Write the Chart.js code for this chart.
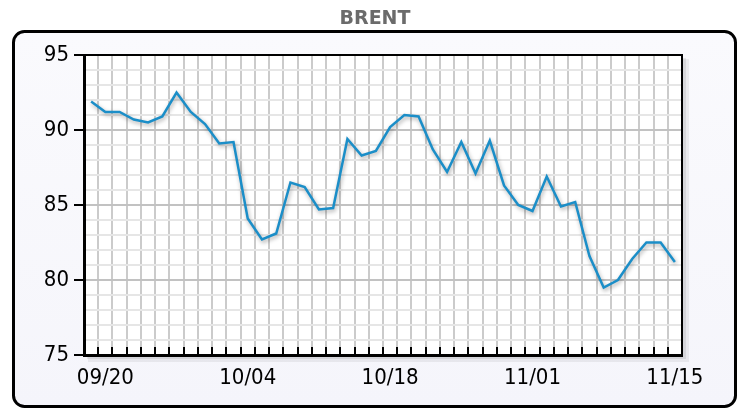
<!DOCTYPE html>
<html>
<head>
<meta charset="utf-8">
<title>BRENT</title>
<script src="https://cdn.jsdelivr.net/npm/chart.js@4.4.1/dist/chart.umd.min.js"></script>
<style>
    body { margin: 0; background: #fff; }
    canvas { display: block; }
</style>
</head>
<body>
<canvas id="brentChart" width="742" height="410"></canvas>
<script>
// Trading days (weekdays only), one point per day
const dates = [
    '09/19', '09/20', '09/23', '09/24', '09/25', '09/26', '09/27', '09/30', '10/01', '10/02',
    '10/03', '10/04', '10/07', '10/08', '10/09', '10/10', '10/11', '10/14', '10/15', '10/16',
    '10/17', '10/18', '10/21', '10/22', '10/23', '10/24', '10/25', '10/28', '10/29', '10/30',
    '10/31', '11/01', '11/04', '11/05', '11/06', '11/07', '11/08', '11/11', '11/12', '11/13',
    '11/14', '11/15'
];

// Brent price
const prices = [
    91.9, 91.2, 91.2, 90.7, 90.5, 90.9, 92.5, 91.2, 90.4, 89.1,
    89.2, 84.1, 82.7, 83.1, 86.5, 86.2, 84.7, 84.8, 89.4, 88.3,
    88.6, 90.2, 91.0, 90.9, 88.7, 87.2, 89.2, 87.1, 89.3, 86.3,
    85.0, 84.6, 86.9, 84.9, 85.2, 81.6, 79.5, 80.0, 81.4, 82.5,
    82.5, 81.2
];

// Dates that get a label under the axis
const tickDates = ['09/20', '10/04', '10/18', '11/01', '11/15'];

const titleText = 'BRENT';
const yMin = 75;
const yMax = 95;

// Rounded frame, title and the white plot panel with its shadow
const framePlugin = {
    id: 'frame',
    beforeDraw(chart) {
        const ctx = chart.ctx;
        const area = chart.chartArea;
        ctx.save();
        ctx.fillStyle = '#ffffff';
        ctx.fillRect(0, 0, chart.width, chart.height);

        // outer frame
        const x = 13.5, y = 31.5, w = 722, h = 375, r = 11;
        ctx.beginPath();
        ctx.moveTo(x + r, y);
        ctx.arcTo(x + w, y, x + w, y + h, r);
        ctx.arcTo(x + w, y + h, x, y + h, r);
        ctx.arcTo(x, y + h, x, y, r);
        ctx.arcTo(x, y, x + w, y, r);
        ctx.closePath();
        const grad = ctx.createLinearGradient(0, y, 0, y + h);
        grad.addColorStop(0, '#fafafd');
        grad.addColorStop(1, '#f5f5fb');
        ctx.fillStyle = grad;
        ctx.fill();
        ctx.lineWidth = 3;
        ctx.strokeStyle = '#000';
        ctx.stroke();

        // title
        ctx.fillStyle = '#6b6b6b';
        ctx.font = 'bold 19px "DejaVu Sans"';
        ctx.textAlign = 'center';
        ctx.textBaseline = 'alphabetic';
        ctx.fillText(titleText, 375, 24);

        // panel shadow + white panel
        ctx.fillStyle = 'rgba(0,0,0,0.06)';
        ctx.fillRect(area.left + 4, area.top + 4, area.right - area.left + 3, area.bottom - area.top + 3);
        ctx.fillStyle = 'rgba(0,0,0,0.08)';
        ctx.fillRect(area.left + 3, area.top + 3, area.right - area.left + 1, area.bottom - area.top + 1);
        ctx.fillStyle = '#ffffff';
        ctx.fillRect(area.left, area.top, area.right - area.left, area.bottom - area.top);
        ctx.restore();
    },
    afterDraw(chart) {
        const ctx = chart.ctx;
        const area = chart.chartArea;
        const xs = chart.scales.x;
        ctx.save();
        // top and right edges of the panel
        ctx.strokeStyle = '#000';
        ctx.lineWidth = 2;
        ctx.beginPath();
        ctx.moveTo(area.left, area.top);
        ctx.lineTo(area.right, area.top);
        ctx.lineTo(area.right, area.bottom);
        ctx.stroke();
        // little day ticks standing on the bottom axis
        ctx.lineWidth = 2;
        ctx.beginPath();
        const step = xs.width / dates.length;
        for (let i = 1; i < dates.length; i++) {
            const px = Math.round(xs.left + i * step);
            ctx.moveTo(px, area.bottom);
            ctx.lineTo(px, area.bottom - 8);
        }
        ctx.stroke();
        ctx.restore();
    }
};

// Soft shadow under the price line
const lineShadow = {
    id: 'lineShadow',
    beforeDatasetDraw(chart) {
        const ctx = chart.ctx;
        ctx.save();
        ctx.shadowColor = 'rgba(0,0,0,0.35)';
        ctx.shadowBlur = 4;
        ctx.shadowOffsetX = 1;
        ctx.shadowOffsetY = 2;
    },
    afterDatasetDraw(chart) {
        chart.ctx.restore();
    }
};

const tickFont = { family: '"DejaVu Sans Condensed", "DejaVu Sans"', size: 22 };

new Chart(document.getElementById('brentChart').getContext('2d'), {
    type: 'line',
    data: {
        labels: dates,
        datasets: [{
            label: titleText,
            data: prices,
            borderColor: '#1b8ec8',
            borderWidth: 2.5,
            pointRadius: 0,
            tension: 0,
            fill: false
        }]
    },
    options: {
        responsive: false,
        devicePixelRatio: 1,
        animation: false,
        layout: {
            padding: { left: 0, right: 60, top: 55, bottom: 0 }
        },
        plugins: {
            legend: { display: false },
            title: { display: false },
            tooltip: { enabled: false }
        },
        scales: {
            x: {
                type: 'category',
                offset: true,
                afterFit(scale) { scale.height = 55; },
                grid: {
                    offset: true,
                    color: '#cbcbcb',
                    lineWidth: 2,
                    drawTicks: false
                },
                border: { color: '#000', width: 3 },
                ticks: {
                    autoSkip: false,
                    maxRotation: 0,
                    padding: 10,
                    color: '#000',
                    font: tickFont,
                    callback(value, index) {
                        const d = dates[index];
                        return tickDates.includes(d) ? d : '';
                    }
                }
            },
            y: {
                min: yMin,
                max: yMax,
                afterFit(scale) { scale.width = 84; },
                grid: {
                    color: ctx => (ctx.tick && ctx.tick.value % 5 === 0) ? '#c2c2c2' : '#e6e6e6',
                    lineWidth: 2,
                    tickColor: ctx => (ctx.tick && ctx.tick.value % 5 === 0) ? '#000' : 'rgba(0,0,0,0)',
                    tickLength: 10,
                    tickWidth: 2
                },
                border: { color: '#000', width: 3 },
                ticks: {
                    stepSize: 1,
                    autoSkip: false,
                    padding: 5,
                    color: '#000',
                    font: tickFont,
                    callback(value) {
                        return value % 5 === 0 ? value : '';
                    }
                }
            }
        }
    },
    plugins: [framePlugin, lineShadow]
});
</script>
</body>
</html>
